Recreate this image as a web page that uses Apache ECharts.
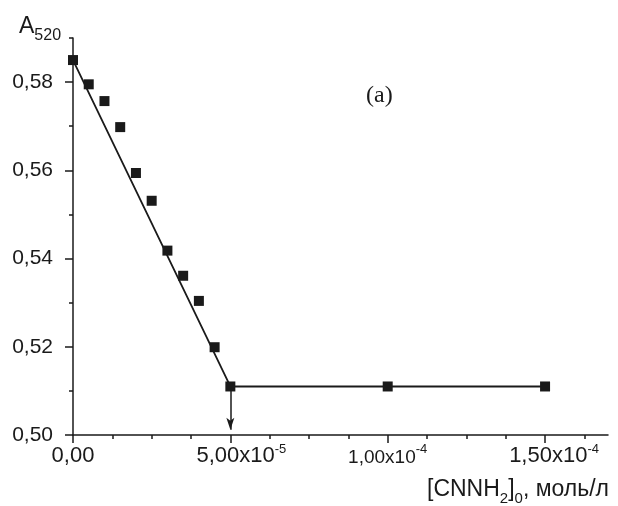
<!DOCTYPE html>
<html>
<head>
<meta charset="utf-8">
<script src="https://cdn.jsdelivr.net/npm/echarts@6/dist/echarts.min.js"></script>
<style>html,body{margin:0;padding:0;background:#fff;}#c{width:618px;height:506px;}</style>
</head>
<body>
<div id="c"></div>
<script>
// Measured points
const concX = [0, 5e-6, 1e-5, 1.5e-5, 2e-5, 2.5e-5, 3e-5, 3.5e-5, 4e-5, 4.5e-5, 5e-5, 1e-4, 1.5e-4];
const absA520 = [0.585, 0.5795, 0.5757, 0.5698, 0.5594, 0.5531, 0.5418, 0.5361, 0.5304, 0.5199, 0.511, 0.511, 0.511];
// Fitted lines
const fitX = [0, 5e-5, 1.5e-4];
const fitY = [0.585, 0.511, 0.511];
// Arrow marking the equivalence point
const arrowX = [5e-5, 5e-5];
const arrowY = [0.511, 0.5012];
// Axes
const xMin = 0, xMax = 1.7e-4;
const xMajor = [0, 5e-5, 1e-4, 1.5e-4];
const xMinor = [1.25e-5, 2.5e-5, 3.75e-5, 6.25e-5, 7.5e-5, 8.75e-5, 1.125e-4, 1.25e-4, 1.375e-4, 1.625e-4];
const xMantissa = ['0,00', '5,00x10', '1,00x10', '1,50x10'];
const xExponent = ['', '-5', '-4', '-4'];
const yMin = 0.50, yMax = 0.59;
const yMajor = [0.50, 0.52, 0.54, 0.56, 0.58];
const yMinor = [0.51, 0.53, 0.55, 0.57, 0.59];
const yLabels = ['0,50', '0,52', '0,54', '0,56', '0,58'];

const INK = '#1a1a1a';
const FONT = '"Liberation Sans", Arial, sans-serif';
const xLabelStyle = ['m0', 'm1', 'm2', 'm3'];

function idxOf(arr, v) {
  for (let i = 0; i < arr.length; i++) if (Math.abs(arr[i] - v) < 1e-9) return i;
  return -1;
}

const chart = echarts.init(document.getElementById('c'), null, {renderer: 'canvas'});
const option = {
  animation: false,
  backgroundColor: '#fff',
  grid: {left: 73, right: 10, top: 38, bottom: 71, containLabel: false},
  title: [
    {
      text: '{a|A}{s|520}', left: 14, top: 5,
      textStyle: {
        fontWeight: 'normal',
        rich: {
          a: {fontFamily: FONT, fontSize: 23, fontWeight: 'normal', color: INK, verticalAlign: 'bottom', lineHeight: 28},
          s: {fontFamily: FONT, fontSize: 16, fontWeight: 'normal', color: INK, verticalAlign: 'bottom', lineHeight: 22, padding: [0, 0, -6, 0]}
        }
      }
    },
    {
      text: '(a)', left: 361, top: 79,
      textStyle: {fontFamily: '"Liberation Serif", "Times New Roman", serif', fontSize: 24, fontWeight: 'normal', color: INK}
    },
    {
      text: '{a|[CNNH}{s|2}{a|]}{s|0}{a|, моль/л}', right: 4, top: 470,
      textStyle: {
        fontWeight: 'normal',
        rich: {
          a: {fontFamily: FONT, fontSize: 23, fontWeight: 'normal', color: INK, verticalAlign: 'bottom', lineHeight: 26},
          s: {fontFamily: FONT, fontSize: 15, fontWeight: 'normal', color: INK, verticalAlign: 'bottom', lineHeight: 20, padding: [0, 0, -5, 0]}
        }
      }
    }
  ],
  xAxis: [
    {
      type: 'value', min: xMin, max: xMax, position: 'bottom',
      splitLine: {show: false},
      axisLine: {show: true, onZero: false, lineStyle: {color: INK, width: 1.5}},
      axisTick: {show: true, inside: false, length: 8, customValues: xMajor, lineStyle: {color: INK, width: 1.5}},
      axisLabel: {
        show: true, margin: 8, customValues: xMajor,
        formatter: function (v) {
          const i = idxOf(xMajor, v);
          if (i < 0) return '';
          const st = xLabelStyle[i];
          return xExponent[i] ? '{' + st + '|' + xMantissa[i] + '}{e|' + xExponent[i] + '}' : '{' + st + '|' + xMantissa[i] + '}';
        },
        rich: {
          m0: {fontFamily: FONT, fontSize: 22, color: INK, verticalAlign: 'bottom', lineHeight: 24},
          m1: {fontFamily: FONT, fontSize: 22, color: INK, verticalAlign: 'bottom', lineHeight: 24, padding: [0, 0, 0, 22]},
          m2: {fontFamily: FONT, fontSize: 19, color: INK, verticalAlign: 'bottom', lineHeight: 24},
          m3: {fontFamily: FONT, fontSize: 22, color: INK, verticalAlign: 'bottom', lineHeight: 24, padding: [0, 0, 0, 18]},
          e: {fontFamily: FONT, fontSize: 13, color: INK, verticalAlign: 'top', lineHeight: 24, padding: [0, 0, 8, 0]}
        }
      }
    },
    {
      type: 'value', min: xMin, max: xMax, position: 'bottom',
      splitLine: {show: false},
      axisLine: {show: false, onZero: false},
      axisTick: {show: true, inside: false, length: 4, customValues: xMinor, lineStyle: {color: INK, width: 1.5}},
      axisLabel: {show: false}
    }
  ],
  yAxis: [
    {
      type: 'value', min: yMin, max: yMax, position: 'left',
      splitLine: {show: false},
      axisLine: {show: true, onZero: false, lineStyle: {color: INK, width: 1.5}},
      axisTick: {show: true, inside: false, length: 8, customValues: yMajor, lineStyle: {color: INK, width: 1.5}},
      axisLabel: {
        show: true, margin: 20, customValues: yMajor,
        formatter: function (v) { const i = idxOf(yMajor, v); return i < 0 ? '' : yLabels[i]; },
        fontFamily: FONT, fontSize: 21, color: INK
      }
    },
    {
      type: 'value', min: yMin, max: yMax, position: 'left',
      splitLine: {show: false},
      axisLine: {show: false, onZero: false},
      axisTick: {show: true, inside: false, length: 4, customValues: yMinor, lineStyle: {color: INK, width: 1.5}},
      axisLabel: {show: false}
    }
  ],
  series: [
    {
      type: 'line', xAxisIndex: 0, yAxisIndex: 0,
      data: fitX.map((x, i) => [x, fitY[i]]),
      showSymbol: false, symbol: 'none',
      lineStyle: {color: INK, width: 1.8},
      silent: true, z: 2,
      markLine: {
        silent: true, animation: false,
        symbol: ['none', 'arrow'], symbolSize: [6, 12],
        label: {show: false},
        lineStyle: {color: INK, width: 1.5, type: 'solid'},
        data: [[{coord: [arrowX[0], arrowY[0]]}, {coord: [arrowX[1], arrowY[1]]}]]
      }
    },
    {
      type: 'scatter', xAxisIndex: 0, yAxisIndex: 0,
      data: concX.map((x, i) => [x, absA520[i]]),
      symbol: 'rect', symbolSize: 10,
      itemStyle: {color: INK, opacity: 1},
      z: 3
    }
  ]
};
chart.setOption(option);
</script>
</body>
</html>
